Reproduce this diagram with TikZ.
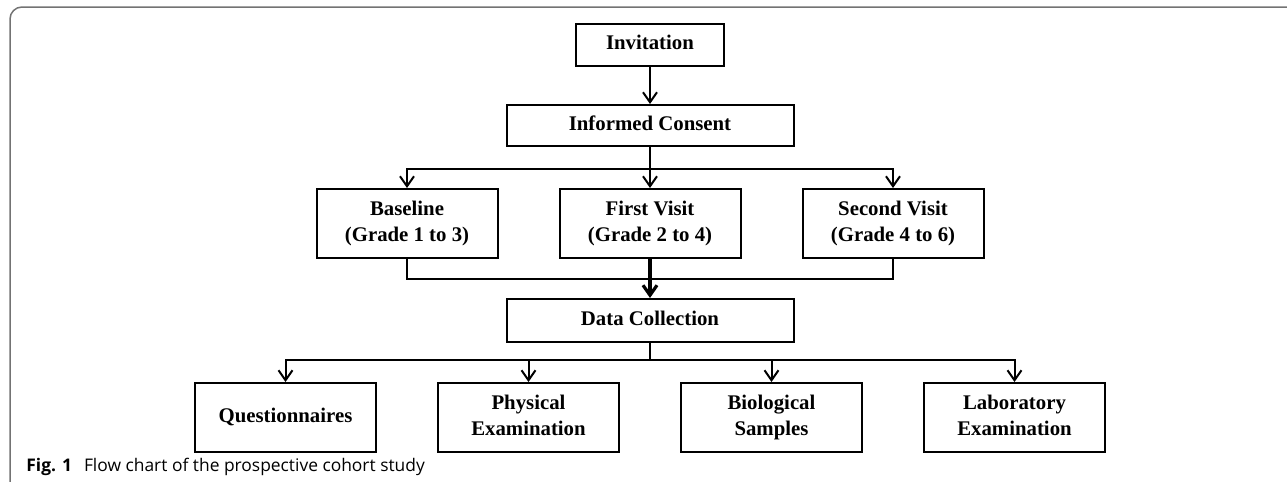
\documentclass[tikz,border=0pt]{standalone}
\usepackage{fontspec}
\setmainfont{Liberation Serif}
\newfontfamily\capfont{Open Sans}
\usetikzlibrary{positioning,arrows.meta}

\begin{document}
\begin{tikzpicture}[x=0.5pt, y=-0.5pt, nodes = {align = center},
    box/.style = {draw, line width=1pt, inner sep=0pt, minimum width=90.5pt,
      minimum height=34.5pt, font=\fontsize{10.4}{13.3}\selectfont\bfseries,
      execute at begin node=\vphantom{Ag}, execute at end node=\vphantom{Ag}},
    link/.style = {line width=1pt},
    flow/.style = {link, -{Straight Barb[length=5pt,width=7pt]}},
    frame/.style = {draw=black!55, line width=0.75pt}]
    \useasboundingbox (0,0) rectangle (1287,482);

    \draw[frame, rounded corners=6pt] (10,482) -- (10,7) -- (1287,7);

    \node (invite) [box, minimum width=74pt, minimum height=21pt] at (650,45)
    {Invitation};

    \node (consent) [box, below = 18.5pt of invite, minimum width=143.5pt,
    minimum height=20.5pt] {Informed Consent};

    \node (first) [box, below = 20.5pt of consent] {First Visit\\(Grade 2 to 4)};
    \node (base) [box, left = 30pt of first] {Baseline\\(Grade 1 to 3)};
    \node (second) [box, right = 30pt of first] {Second Visit\\(Grade 4 to 6)};

    \node (collect) [box, below = 19.5pt of first, minimum width=143.5pt,
    minimum height=21.5pt] {Data Collection};

    \node (phys) [box, below left = 19.5pt and 15pt of collect.south]
    {Physical\\Examination};
    \node (bio) [box, below right = 19.5pt and 15pt of collect.south]
    {Biological\\Samples};
    \node (quest) [box, left = 30pt of phys] {Questionnaires};
    \node (lab) [box, right = 30pt of bio] {Laboratory\\Examination};

    \draw[flow] (invite) -- (consent);

    \draw[link] (consent.south) -- ++(0,22) coordinate (fork1);
    \draw[flow] (fork1) -| (base);
    \draw[flow] (fork1) -- (first);
    \draw[flow] (fork1) -| (second);

    \draw[link] (base.south) -- ++(0,20) coordinate (join) -| (second.south);
    \draw[flow, line width=1.6pt] (first) -- (collect);

    \draw[link] (collect.south) -- ++(0,17) coordinate (fork2);
    \foreach \leaf in {quest,phys,bio,lab}
      \draw[flow] (fork2) -| (\leaf);

    \node (caption) [anchor=base west, inner sep=0pt,
    font=\capfont\fontsize{8.7}{10}\selectfont] at (26,471)
    {\textbf{Fig. 1}\hspace{6pt}Flow chart of the prospective cohort study};
\end{tikzpicture}
\end{document}
